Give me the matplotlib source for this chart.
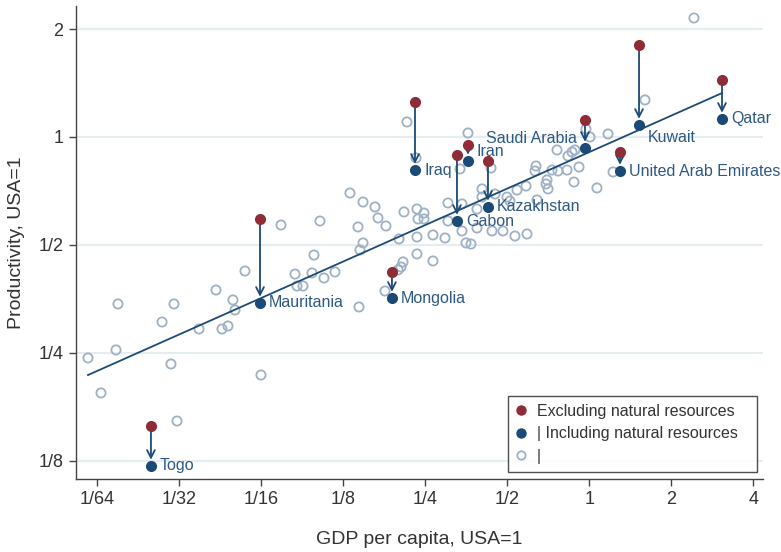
import numpy as np
import matplotlib
matplotlib.use("Agg")
import matplotlib.pyplot as plt
from matplotlib.lines import Line2D
from matplotlib.ticker import FixedLocator, NullLocator

plt.rcParams['font.family'] = ['Liberation Sans', 'DejaVu Sans']

# all values in log2 units (USA = 0)
other_gdp_log2 = [
    -6.116, -5.957, -5.774, -5.750, -5.213, -5.104, -5.067, -5.030, -4.762, -4.555,
    -4.482, -4.409, -4.348, -4.323, -4.201, -4.006, -3.762, -3.591, -3.384, -3.238,
    -3.104, -3.567, -3.494, -3.287, -3.360, -2.811, -2.494, -2.921, -2.762, -2.616,
    -2.579, -2.482, -2.262, -2.104, -2.091, -2.823, -2.762, -2.799, -2.323, -2.104,
    -2.104, -2.274, -2.299, -2.335, -2.226, -2.116,
    -1.482, -1.579, -1.201, -0.652, -0.665, -0.518, -0.530, -0.506, -1.311, -1.726,
    -1.555, -1.372, -1.311, -1.152, -1.006, -0.970, -0.884, -0.774, -0.640, -2.018,
    -2.018, -1.726, -1.555, -1.372, -1.189, -1.055, -0.909, -0.762, -1.909, -1.762,
    -1.506, -1.445, -1.909,
    1.274, 0.677, -0.043, 0.006, 0.226, -0.396, -0.213, -0.177, -0.262, -0.128,
    -0.384, -0.274, -0.457, -0.189, 0.091, 0.287,
]
other_prod_log2 = [
    -2.046, -2.370, -1.972, -1.546, -1.713, -2.102, -1.546, -2.630, -1.778, -1.417,
    -1.778, -1.750, -1.509, -1.602, -1.241, -2.204, -0.815, -1.269, -1.259, -1.306,
    -1.250, -1.380, -1.380, -0.778, -1.093, -1.574, -1.426, -0.519, -0.602, -0.648,
    -0.750, -0.824, -0.694, -0.667, -0.759, -0.833, -0.981, -1.046, -0.944, -0.926,
    -1.083, -1.157, -1.204, -1.231, 0.139, -0.194,
    0.037, -0.296, -0.287, -0.269, -0.315, -0.398, -0.435, -0.481, -0.481, -0.611,
    -0.620, -0.667, -0.556, -0.528, -0.556, -0.593, -0.491, -0.454, -0.583, -0.704,
    -0.759, -0.778, -0.870, -0.843, -0.870, -0.870, -0.917, -0.898, -0.907, -0.935,
    -0.981, -0.991, -1.148,
    1.102, 0.343, 0.074, 0.000, 0.028, -0.120, -0.139, -0.120, -0.176, -0.278,
    -0.315, -0.306, -0.306, -0.417, -0.472, -0.324,
]

countries = ['Togo', 'Mauritania', 'Mongolia', 'Iraq', 'Gabon', 'Iran',
             'Kazakhstan', 'Saudi Arabia', 'Kuwait', 'United Arab Emirates', 'Qatar']
ctry_gdp_log2 = [-5.348, -4.018, -2.409, -2.128, -1.616, -1.482,
                 -1.238, -0.055, 0.604, 0.372, 1.616]
excl_log2 = [-2.676, -0.759, -1.250, 0.324, -0.167, -0.074,
             -0.222, 0.157, 0.852, -0.139, 0.528]
incl_log2 = [-3.046, -1.537, -1.491, -0.306, -0.778, -0.222,
             -0.648, -0.102, 0.111, -0.315, 0.167]

# fitted line (log2 space)
fit_slope = 0.3377
fit_icpt = -0.139

xticks = [1/64, 1/32, 1/16, 1/8, 1/4, 1/2, 1, 2, 4]
xticklabels = ['1/64', '1/32', '1/16', '1/8', '1/4', '1/2', '1', '2', '4']
yticks = [1/8, 1/4, 1/2, 1, 2]
yticklabels = ['1/8', '1/4', '1/2', '1', '2']

RED = '#8e2c37'
NAVY = '#1b4a76'
HOLLOW = '#9fb1c5'
LABEL = '#2d5884'
TXT = '#333333'

fig = plt.figure(figsize=(7.81, 5.52), dpi=100)
ax = fig.add_axes([76/781, 1-479/552, (763-76)/781, (479-6)/552])

ox = 2.0 ** np.array(other_gdp_log2)
oy = 2.0 ** np.array(other_prod_log2)
cx = 2.0 ** np.array(ctry_gdp_log2)
ey = 2.0 ** np.array(excl_log2)
iy = 2.0 ** np.array(incl_log2)

ax.scatter(ox, oy, s=44, facecolors='none', edgecolors=HOLLOW, linewidths=1.3, zorder=2)

fx = np.array([min(other_gdp_log2), max(ctry_gdp_log2)])
ax.plot(2.0 ** fx, 2.0 ** (fit_icpt + fit_slope * fx), color=NAVY, lw=1.3, zorder=3)

for x, y0, y1 in zip(cx, ey, iy):
    ax.annotate('', xy=(x, y1), xytext=(x, y0),
                arrowprops=dict(arrowstyle='->,head_length=0.55,head_width=0.28',
                                color=NAVY, lw=1.3, shrinkA=0, shrinkB=4.5),
                zorder=4)

ax.scatter(cx, ey, s=64, color=RED, zorder=5, linewidths=0)
ax.scatter(cx, iy, s=64, color=NAVY, zorder=5, linewidths=0)

# label offsets in points
offsets = {
    'Saudi Arabia': (-6, 7, 'right'),
    'Kuwait': (6, -9, 'left'),
    'Iran': (6, 6.5, 'left'),
}
for name, x, y in zip(countries, cx, iy):
    dx, dy, ha = offsets.get(name, (6.5, 0, 'left'))
    ax.annotate(name, (x, y), xytext=(dx, dy), textcoords='offset points',
                ha=ha, va='center', fontsize=11.5, color=LABEL, zorder=6)

ax.set_xscale('log', base=2)
ax.set_yscale('log', base=2)
ax.set_xlim(2 ** -6.262, 2 ** 2.116)
ax.set_ylim(2 ** -3.167, 2 ** 1.213)
ax.xaxis.set_major_locator(FixedLocator(xticks))
ax.xaxis.set_minor_locator(NullLocator())
ax.yaxis.set_major_locator(FixedLocator(yticks))
ax.yaxis.set_minor_locator(NullLocator())
ax.set_xticklabels(xticklabels, fontsize=13)
ax.set_yticklabels(yticklabels, fontsize=13)

ax.yaxis.grid(True, color='#e6edf1', lw=1.6)
ax.set_axisbelow(True)
for s in ['top', 'right']:
    ax.spines[s].set_visible(False)
for s in ['left', 'bottom']:
    ax.spines[s].set_color('#444444')
    ax.spines[s].set_linewidth(1.0)
ax.tick_params(direction='out', length=5, width=1, color='#444444', labelcolor=TXT, pad=4)

ax.set_xlabel('GDP per capita, USA=1', fontsize=14, color=TXT, labelpad=16)
ax.set_ylabel('Productivity, USA=1', fontsize=14, color=TXT, labelpad=10)

handles = [
    Line2D([], [], ls='none', marker='o', color=RED, markersize=7.5, markeredgewidth=0),
    Line2D([], [], ls='none', marker='o', color=NAVY, markersize=7.5, markeredgewidth=0),
    Line2D([], [], ls='none', marker='o', markerfacecolor='none', markeredgecolor=HOLLOW,
           markersize=6, markeredgewidth=1.3),
]
labels = ['Excluding natural resources', '| Including natural resources', '|']
leg = ax.legend(handles, labels, loc='lower left',
                bbox_to_anchor=(508/781, 1-472/552, 249/781, 79/552),
                bbox_transform=fig.transFigure, mode='expand', borderaxespad=0,
                fontsize=11.5, frameon=True, fancybox=False, handletextpad=0.7,
                handlelength=0.6, labelspacing=0.48, borderpad=0.5)
leg.get_frame().set_edgecolor('#222222')
leg.get_frame().set_linewidth(1.0)
for t in leg.get_texts():
    t.set_color(TXT)

fig.savefig('out.png', dpi=100)
